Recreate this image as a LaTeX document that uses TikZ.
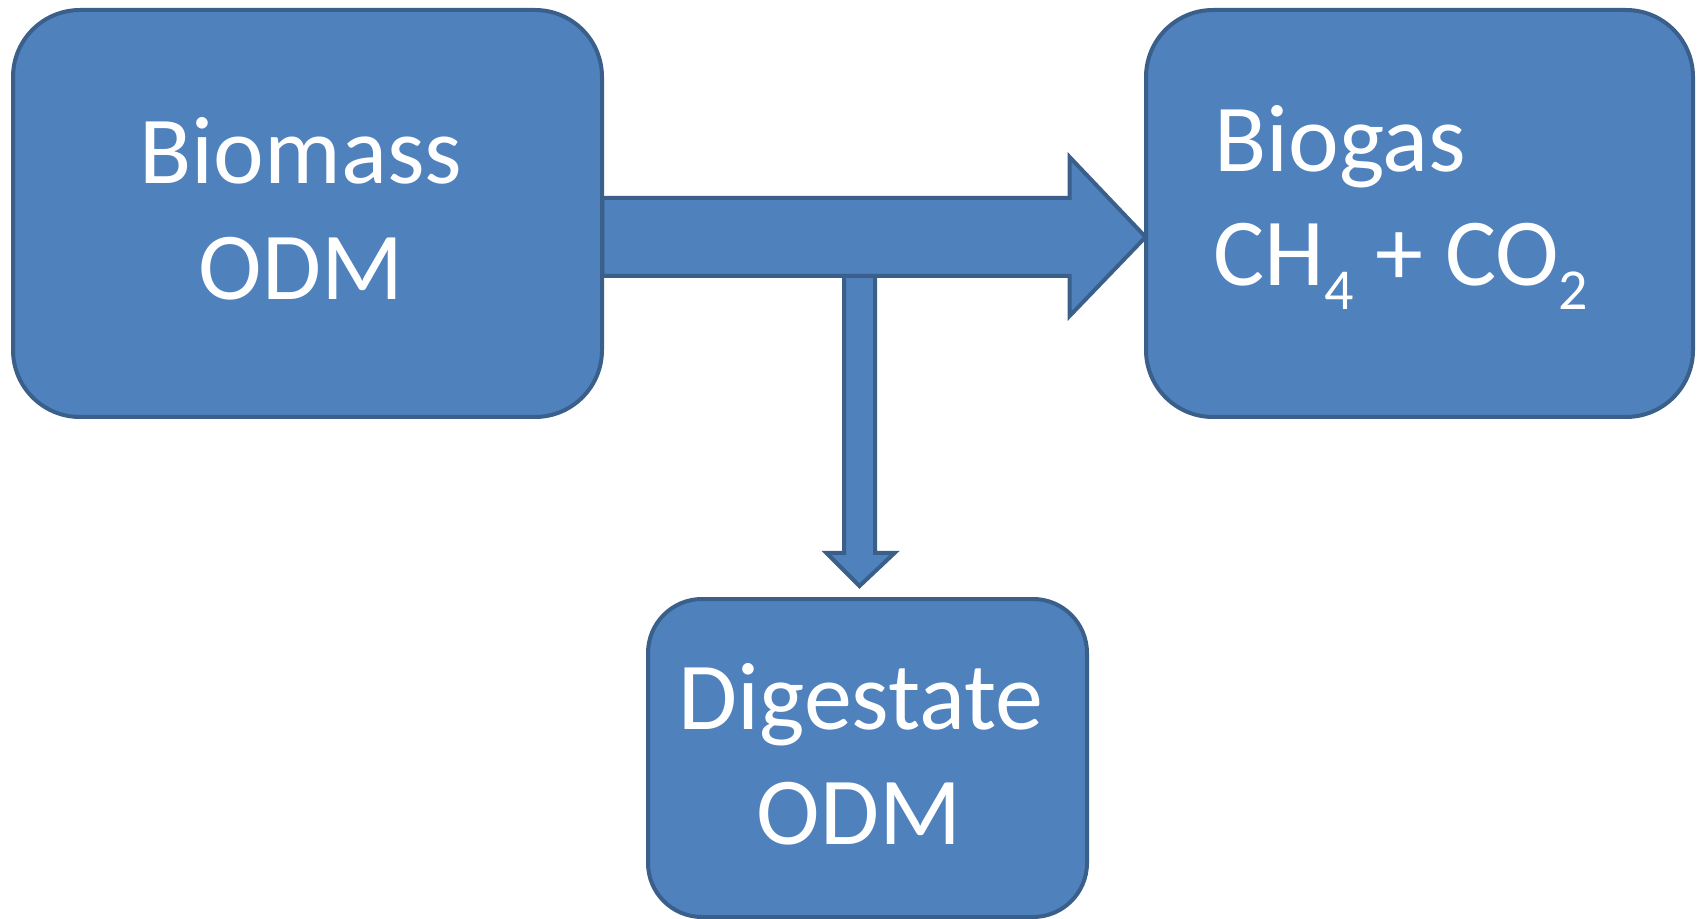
\documentclass[tikz,border=0pt]{standalone}
\usepackage{fontspec}
\setmainfont{Carlito}
\usetikzlibrary{calc}
\definecolor{boxfill}{HTML}{4F81BD}
\definecolor{boxline}{HTML}{3A5F8B}
\newcommand{\subdig}[1]{\raisebox{-12pt}{\fontsize{29}{29}\selectfont #1}}
\begin{document}
\begin{tikzpicture}[x=0.5pt,y=-0.5pt,
  box/.style={draw=boxline, fill=boxfill, line width=2pt, rounded corners=33.5pt, inner sep=0pt},
  blockarrow/.style={draw=boxline, fill=boxfill, line width=2pt, line join=miter},
  label/.style={text=white, font=\fontsize{48}{58}\selectfont, inner sep=0pt}]
\useasboundingbox (0,0) rectangle (1698,919);
% boxes (as nodes, drawn on top of arrows later)
\path (307.5,213.5) node[minimum width=294.5pt, minimum height=203.5pt] (b1) {};
\path (1419.5,213.5) node[minimum width=273.5pt, minimum height=203.5pt] (b2) {};
\path (867.5,758) node[minimum width=219.5pt, minimum height=159pt] (b3) {};
% arrow anchor coordinates
\coordinate (hs) at ($(b1.east)+(0,23.5)$);
\coordinate (ht) at (b2.west |- hs);
\coordinate (vs) at (859.5,276);
\coordinate (vt) at ($(b3.north |- vs)+(-8,310)$);
% vertical block arrow
\draw[blockarrow] ($(vs)+(-15.5,0)$) -- ($(vt)+(-15.5,-33)$) -- ($(vt)+(-33,-33)$) -- (vt)
  -- ($(vt)+(35,-33)$) -- ($(vt)+(15.5,-33)$) -- ($(vs)+(15.5,0)$);
% horizontal block arrow
\draw[blockarrow] ($(hs)+(0,-39)$) -- ($(ht)+(-76,-39)$) -- ($(ht)+(-76,-80)$) -- (ht)
  -- ($(ht)+(-76,79)$) -- ($(ht)+(-76,39)$) -- ($(hs)+(0,39)$) -- cycle;
% boxes
\node[box, minimum width=294.5pt, minimum height=203.5pt] at (b1) {};
\node[box, minimum width=273.5pt, minimum height=203.5pt] at (b2) {};
\node[box, rounded corners=27pt, minimum width=219.5pt, minimum height=159pt] at (b3) {};
% texts
\node[label, anchor=base] (t1a) at (301,184) {Biomass};
\node[label, anchor=base] (t1b) at (301,300) {ODM};
\node[label, anchor=base west] (t2a) at (1214,172) {Biogas};
\node[label, anchor=base west] (t2b) at (1213,286) {CH\subdig{4} + CO\subdig{2}};
\node[label, anchor=base] (t3a) at (861,729) {Digestate};
\node[label, anchor=base] (t3b) at (859,844) {ODM};
\end{tikzpicture}
\end{document}
